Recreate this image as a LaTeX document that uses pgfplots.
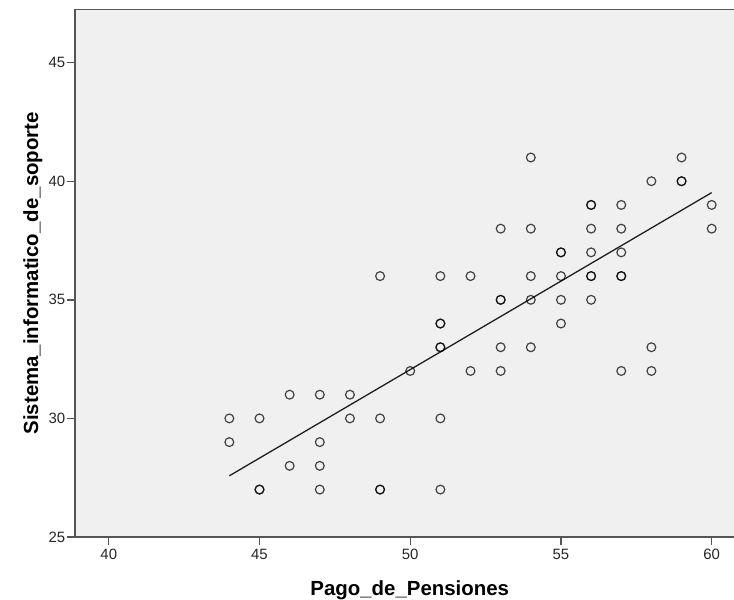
\documentclass[border=0pt]{standalone}
\usepackage{fontspec}
\setmainfont{Liberation Sans}
\usepackage{pgfplots}
\pgfplotsset{compat=1.18}
\definecolor{bggray}{RGB}{240,240,240}
\definecolor{axgray}{RGB}{85,85,85}
\begin{document}
\begin{tikzpicture}
\useasboundingbox (-75bp,-63bp) rectangle (659bp,537bp);
\begin{axis}[
  at={(0,0)}, anchor=south west,
  scale only axis, width=659bp, height=527.5bp,
  xmin=38.88, xmax=60.74, ymin=25, ymax=47.24,
  axis background/.style={fill=bggray},
  axis x line*=box, axis y line*=left,
  axis line style={axgray, line width=1.4bp},
  xtick={40,45,50,55,60}, ytick={25,30,35,40,45},
  tick align=outside, xtick pos=lower, ytick pos=left,
  major tick length=8bp,
  tick style={axgray, line width=1.4bp},
  ticklabel style={font=\fontsize{15}{18}\selectfont, text=black!85},
  yticklabel style={inner sep=1.5bp},
  xticklabel style={yshift=-1bp},
  /pgf/number format/assume math mode=true,
  xlabel={Pago\_de\_Pensiones},
  ylabel={Sistema\_informatico\_de\_soporte},
  label style={font=\fontsize{20.5}{24}\selectfont\bfseries},
  xlabel style={at={(axis description cs:0.508,-0.1118)}, anchor=base},
  ylabel style={at={(axis description cs:-0.0561,0.5)}, anchor=base},
]
\addplot[only marks, mark=o, mark size=4.4bp,
  mark options={draw=black, draw opacity=0.72, line width=1.2bp}]
  table {
x y
44 30
44 29
45 30
45 27
45 27
46 31
46 28
47 31
47 29
47 28
47 27
48 31
48 30
49 36
49 30
49 27
49 27
50 32
51 36
51 34
51 34
51 33
51 33
51 30
51 27
52 36
52 32
53 38
53 35
53 35
53 33
53 32
54 41
54 38
54 36
54 35
54 33
55 37
55 37
55 36
55 35
55 34
56 39
56 39
56 38
56 37
56 36
56 36
56 35
57 39
57 38
57 37
57 36
57 36
57 32
58 40
58 33
58 32
59 41
59 40
59 40
60 39
60 38
};
\addplot[no marks, line width=1.3bp, color=black!88] coordinates {(44,27.58) (60,39.52)};
\end{axis}
\end{tikzpicture}
\end{document}
